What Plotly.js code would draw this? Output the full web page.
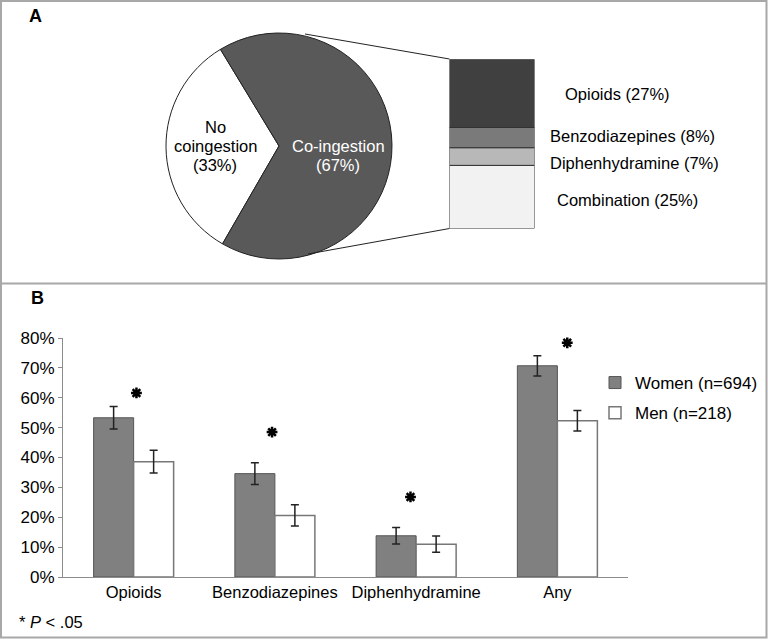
<!DOCTYPE html>
<html>
<head>
<meta charset="utf-8">
<script src="https://cdn.plot.ly/plotly-3.0.1.min.js"></script>
<style>html,body{margin:0;padding:0;background:#fff;}#chart{width:768px;height:640px;}</style>
</head>
<body>
<div id="chart"></div>
<script>
// ---- Panel A data ----
const pieLabels = ["No coingestion", "Co-ingestion"];
const pieValues = [33, 67];
const stackLabels = ["Combination", "Diphenhydramine", "Benzodiazepines", "Opioids"];
const stackValues = [25, 7, 8, 27];
const stackText = ["Combination (25%)", "Diphenhydramine (7%)", "Benzodiazepines (8%)", "Opioids (27%)"];

// ---- Panel B data ----
const categories = ["Opioids", "Benzodiazepines", "Diphenhydramine", "Any"];
const womenValues = [53.3, 34.6, 13.8, 70.7];
const womenErr = [3.8, 3.65, 2.75, 3.4];
const menValues = [38.6, 20.6, 11.0, 52.3];
const menErr = [3.8, 3.55, 2.75, 3.45];
const starX = [0.02, 0.98, 1.96, 3.07];
const starY = [61.6, 48.5, 26.8, 78.4];
const yTicks = [0, 10, 20, 30, 40, 50, 60, 70, 80];

const W = 768, H = 640;
const px = x => x / W;
const py = y => 1 - y / H;
const FONT = "Liberation Sans, Arial, Helvetica, sans-serif";

// cumulative bases for the stacked bar
const stackBase = [];
let acc = 0;
for (const v of stackValues) { stackBase.push(acc); acc += v; }

const traces = [
  {
    type: "pie",
    labels: pieLabels,
    values: pieValues,
    sort: false,
    direction: "clockwise",
    rotation: 210,
    marker: { colors: ["#ffffff", "#595959"], line: { color: "#222222", width: 1 } },
    textinfo: "none",
    hoverinfo: "none",
    showlegend: false,
    domain: { x: [px(166), px(392)], y: [py(259), py(33)] }
  },
  {
    type: "bar",
    x: stackValues.map(() => 0),
    y: stackValues,
    base: stackBase,
    width: 1,
    marker: { color: ["#f2f2f2", "#b8b8b8", "#7a7a7a", "#404040"], line: { color: "#333333", width: 1 } },
    xaxis: "x2", yaxis: "y2",
    showlegend: false,
    hoverinfo: "none"
  },
  {
    type: "bar",
    name: "Women (n=694)",
    legendgroup: "w",
    x: categories.map((c, i) => i),
    y: womenValues,
    error_y: { type: "data", array: womenErr, visible: true, color: "#222222", thickness: 1.5, width: 4 },
    marker: { color: "#808080", line: { color: "#555555", width: 1 } }
  },
  {
    type: "bar",
    name: "Men (n=218)",
    legendgroup: "m",
    x: categories.map((c, i) => i),
    y: menValues,
    error_y: { type: "data", array: menErr, visible: true, color: "#222222", thickness: 1.5, width: 4 },
    marker: { color: "#ffffff", line: { color: "#777777", width: 1.5 } }
  },
  {
    type: "scatter",
    mode: "markers",
    x: starX,
    y: starY,
    marker: { symbol: "asterisk-open", size: 9, color: "#000", line: { color: "#000", width: 2.5 } },
    cliponaxis: false,
    showlegend: false,
    hoverinfo: "none"
  }
];

const ann = [];
function addText(text, x, y, opts) {
  ann.push(Object.assign({
    text: text, x: px(x), y: py(y), xref: "paper", yref: "paper",
    showarrow: false, xanchor: "center", yanchor: "middle",
    font: { family: FONT, size: 16.5, color: "#000" }
  }, opts || {}));
}
addText("<b>A</b>", 35, 16, { font: { family: FONT, size: 18, color: "#000" } });
addText("<b>B</b>", 37, 298, { font: { family: FONT, size: 18, color: "#000" } });
addText("No", 215, 127);
addText("coingestion", 215, 146);
addText("(33%)", 215, 165);
addText("Co-ingestion", 338, 146, { font: { family: FONT, size: 16.5, color: "#fff" } });
addText("(67%)", 338, 165, { font: { family: FONT, size: 16.5, color: "#fff" } });
const stackLabelPos = [[555, 200], [548, 163], [548, 136], [563, 94]];
stackText.forEach((t, i) => addText(t, stackLabelPos[i][0], stackLabelPos[i][1], { xanchor: "left" }));
addText("* <i>P</i> &lt; .05", 17, 622, { xanchor: "left" });

const shapes = [
  { type: "rect", xref: "paper", yref: "paper", x0: px(1), x1: px(766.5), y0: py(1), y1: py(637.5), line: { color: "#a8a8a8", width: 2 } },
  { type: "line", xref: "paper", yref: "paper", x0: px(1), x1: px(766.5), y0: py(283.5), y1: py(283.5), line: { color: "#a8a8a8", width: 2 } },
  { type: "line", xref: "paper", yref: "paper", x0: px(305), x1: px(449.5), y0: py(34), y1: py(59), line: { color: "#222", width: 1 } },
  { type: "line", xref: "paper", yref: "paper", x0: px(308), x1: px(449.5), y0: py(254), y1: py(228.5), line: { color: "#222", width: 1 } }
];

const layout = {
  width: W, height: H,
  margin: { l: 0, r: 0, t: 0, b: 0 },
  paper_bgcolor: "#fff", plot_bgcolor: "rgba(0,0,0,0)",
  font: { family: FONT, size: 17, color: "#000" },
  barmode: "group",
  bargap: 0.4336,
  bargroupgap: 0,
  xaxis: {
    domain: [px(63), px(628)],
    range: [-0.5, 3.5],
    tickmode: "array",
    tickvals: categories.map((c, i) => i),
    ticktext: categories,
    showgrid: false, zeroline: false,
    showline: true, linecolor: "#8c8c8c", linewidth: 1,
    ticks: "",
    tickfont: { family: FONT, size: 16.5, color: "#000" },
    anchor: "y"
  },
  yaxis: {
    domain: [py(577), py(338)],
    range: [0, 80],
    tickmode: "array",
    tickvals: yTicks,
    ticktext: yTicks.map(v => v + "%"),
    showgrid: false, zeroline: false,
    showline: true, linecolor: "#8c8c8c", linewidth: 1,
    ticks: "outside", ticklen: 4, tickcolor: "#8c8c8c",
    tickfont: { family: FONT, size: 17, color: "#000" },
    anchor: "x"
  },
  xaxis2: { domain: [px(449.5), px(534.5)], range: [-0.5, 0.5], visible: false, anchor: "y2", fixedrange: true },
  yaxis2: { domain: [py(228.5), py(59.3)], range: [0, 67], visible: false, anchor: "x2", fixedrange: true },
  showlegend: true,
  legend: {
    x: px(595), y: py(365), xanchor: "left", yanchor: "top",
    bgcolor: "rgba(0,0,0,0)",
    font: { family: FONT, size: 17, color: "#000" },
    tracegroupgap: 5,
    traceorder: "grouped"
  },
  annotations: ann,
  shapes: shapes
};

Plotly.newPlot("chart", traces, layout, { staticPlot: true, displayModeBar: false });
</script>
</body>
</html>
